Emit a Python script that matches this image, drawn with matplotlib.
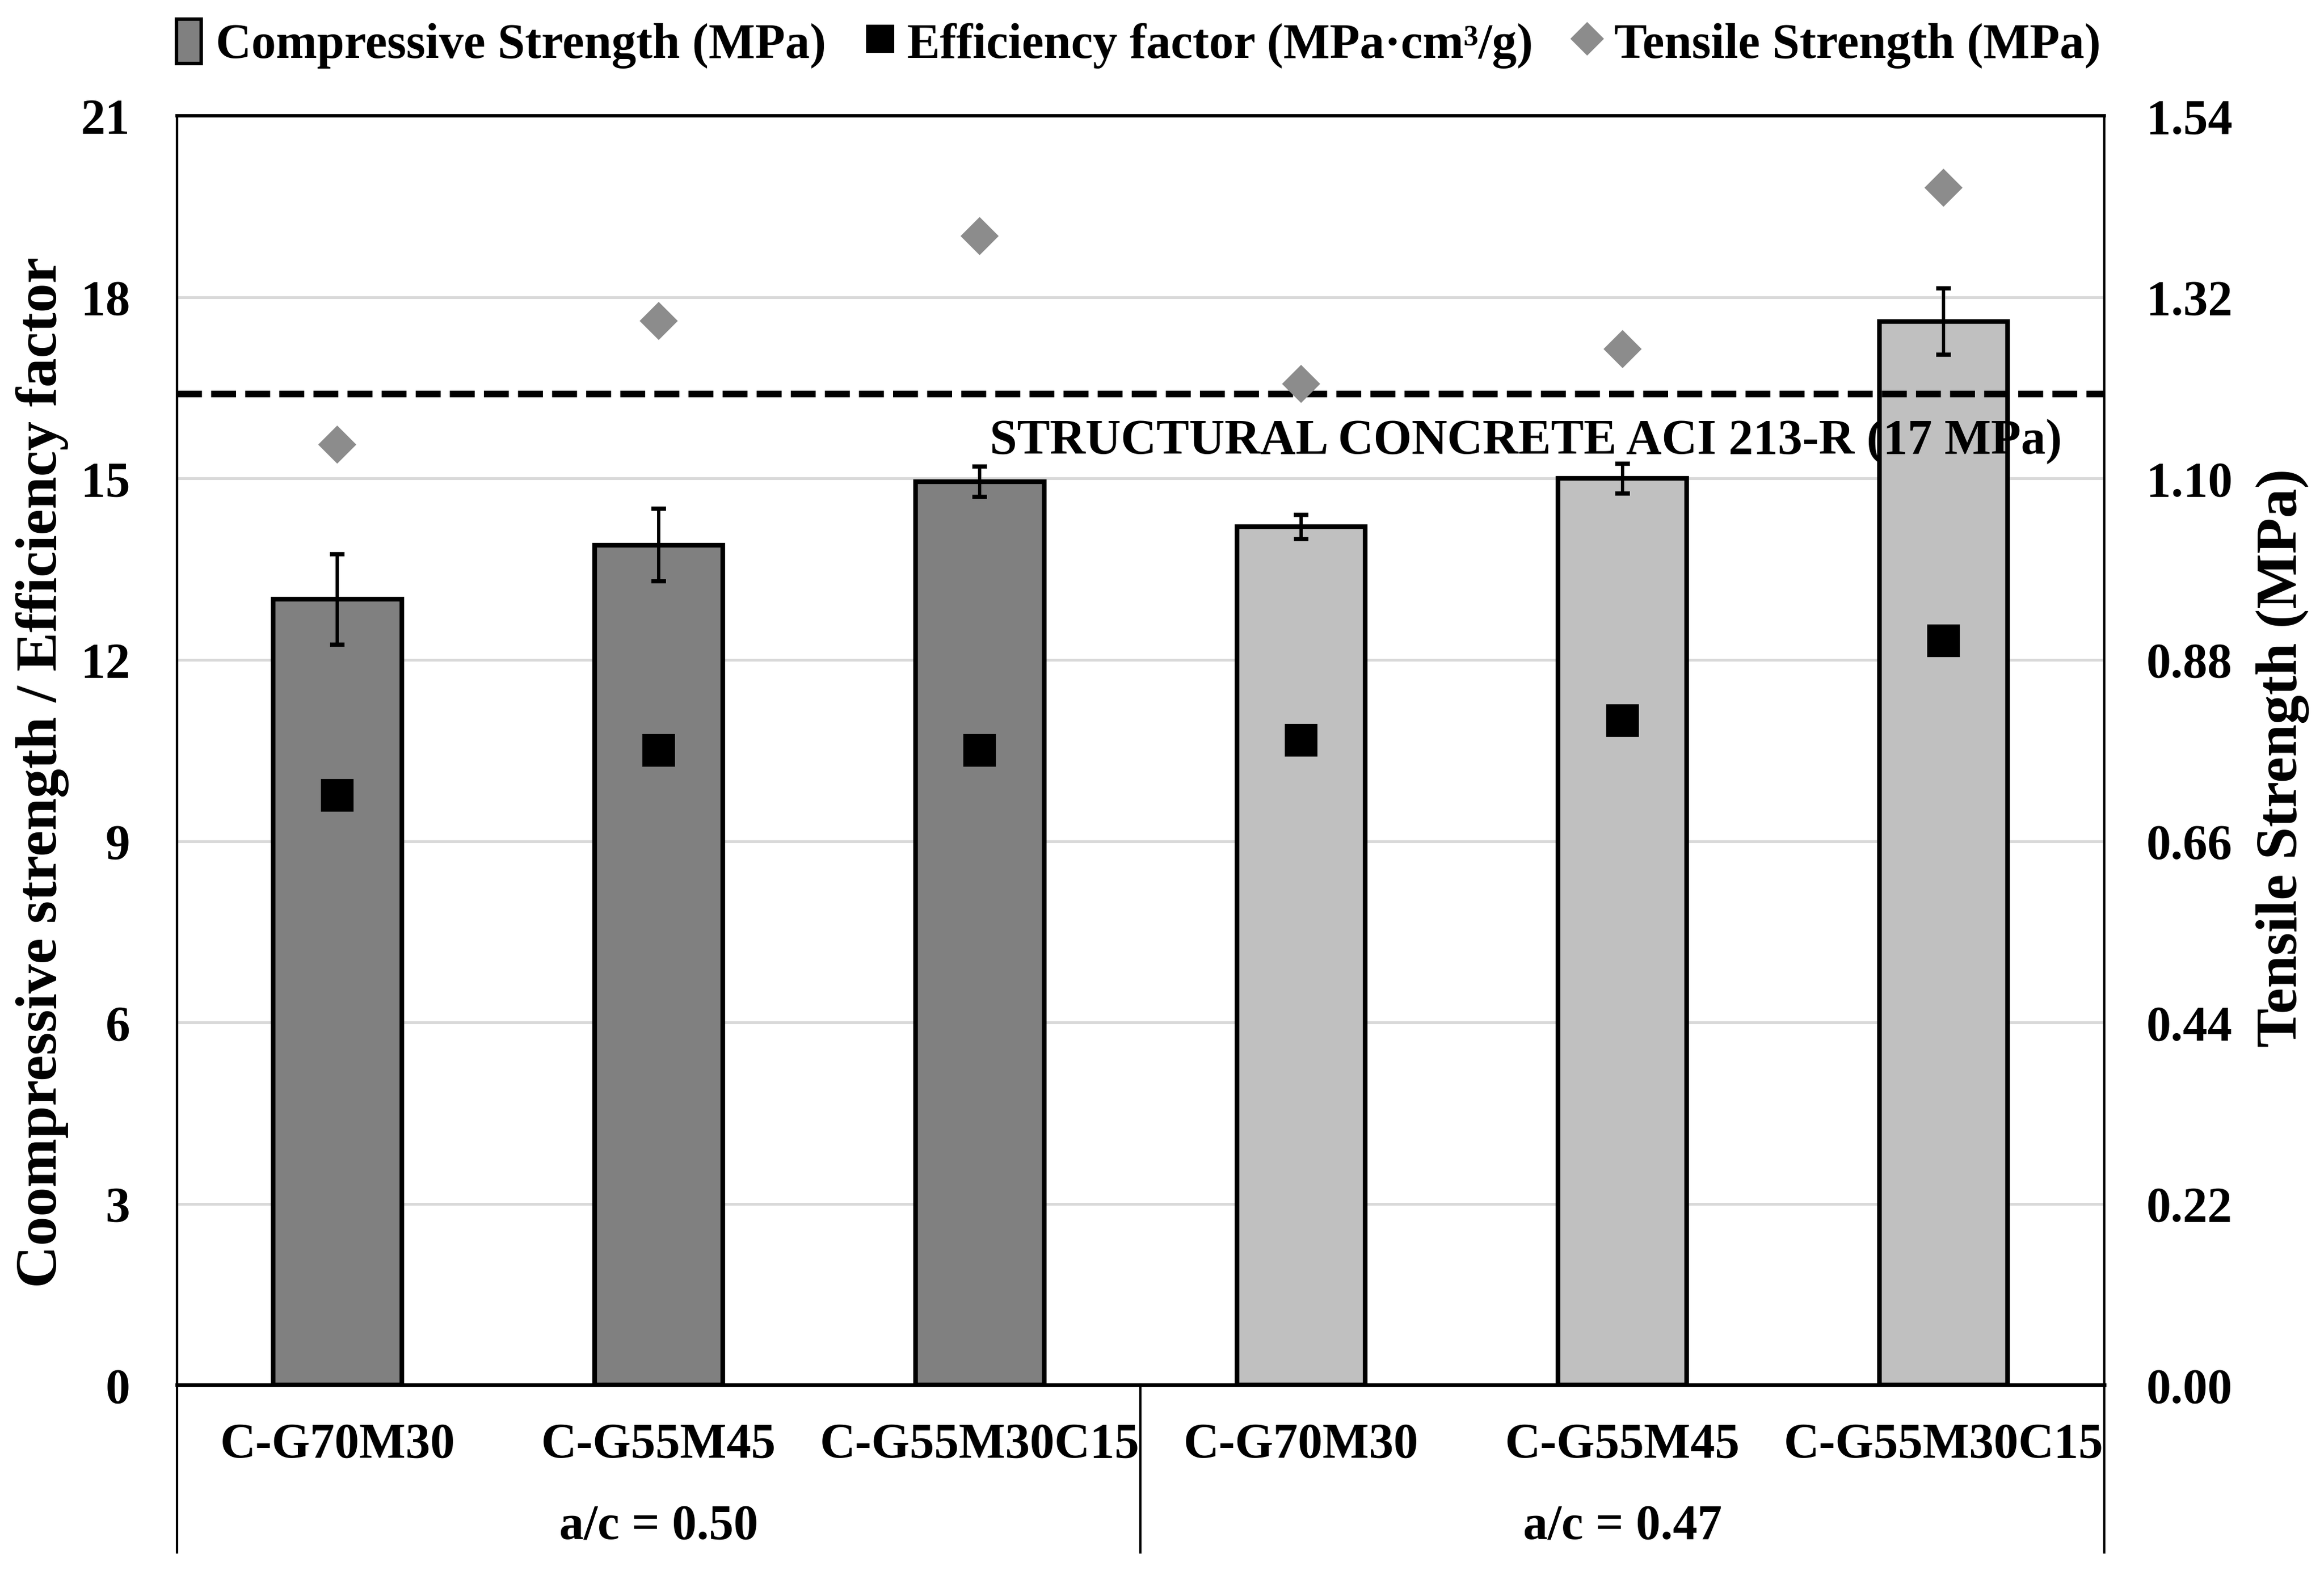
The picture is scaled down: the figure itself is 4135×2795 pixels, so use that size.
import matplotlib
matplotlib.use("Agg")
import matplotlib.pyplot as plt
from matplotlib.patches import Patch
from matplotlib.lines import Line2D

# data
mixes       = ["C-G70M30", "C-G55M45", "C-G55M30C15", "C-G70M30", "C-G55M45", "C-G55M30C15"]
groups      = ["a/c = 0.50", "a/c = 0.47"]
compressive = [13.0, 13.9, 14.95, 14.2, 15.0, 17.6]
comp_err    = [0.75, 0.6, 0.25, 0.2, 0.25, 0.55]
efficiency  = [9.76, 10.5, 10.5, 10.67, 11.0, 12.32]
tensile     = [1.141, 1.291, 1.394, 1.215, 1.257, 1.453]
aci_limit   = 16.4
bar_colors  = ["#808080"] * 3 + ["#c0c0c0"] * 3

left_ticks  = [0, 3, 6, 9, 12, 15, 18, 21]
right_ticks = [0.00, 0.22, 0.44, 0.66, 0.88, 1.10, 1.32, 1.54]

plt.rcParams["font.family"] = ["Liberation Serif", "DejaVu Serif"]
plt.rcParams["font.weight"] = "bold"

fig = plt.figure(figsize=(4135 / 300, 2795 / 300), dpi=300)
ax = fig.add_axes([0.0761, 0.1183, 0.9054 - 0.0761, 0.9262 - 0.1183])
ax2 = ax.twinx()

x = list(range(len(mixes)))
ax.bar(x, compressive, width=0.40, color=bar_colors, edgecolor="black", linewidth=2.0, zorder=2)
ax.errorbar(x, compressive, yerr=comp_err, fmt="none", ecolor="black", elinewidth=1.4,
            capsize=3.2, capthick=1.8, zorder=3)
ax.plot(x, efficiency, ls="none", marker="s", ms=13, color="black", zorder=4)
ax.axhline(aci_limit, color="black", lw=2.8, dashes=(3.8, 1.4), zorder=3)
ax.text(3.70, 15.61, "STRUCTURAL CONCRETE ACI 213-R (17 MPa)", ha="center", va="center",
        fontsize=21, fontweight="bold", zorder=5)

ax2.plot(x, tensile, ls="none", marker="D", ms=10.5, color="#8c8c8c", zorder=4)

ax.set_xlim(-0.5, 5.5)
ax.set_ylim(0, 21)
ax2.set_ylim(0, 1.54)
ax.set_yticks(left_ticks)
ax.set_yticklabels([str(t) for t in left_ticks], fontsize=21, fontweight="bold")
ax2.set_yticks(right_ticks)
ax2.set_yticklabels([f"{t:.2f}" for t in right_ticks], fontsize=21, fontweight="bold")
ax.tick_params(axis="y", length=0, pad=20)
ax2.tick_params(axis="y", length=0, pad=18)

ax.set_xticks(x)
ax.set_xticklabels(mixes, fontsize=21, fontweight="bold")
ax.tick_params(axis="x", length=0, pad=16)

ax.yaxis.grid(True, color="#d9d9d9", lw=1.2, zorder=0)
ax.set_axisbelow(True)

for a in (ax, ax2):
    for s in a.spines.values():
        s.set_linewidth(1.0)
ax.spines["bottom"].set_linewidth(1.6)
ax.spines["top"].set_linewidth(1.4)

# group separators and group labels under the axis
trans = ax.get_xaxis_transform()
for xs in (-0.5, 2.5, 5.5):
    ax.plot([xs, xs], [0, -0.132], transform=trans, color="black", lw=1.0, clip_on=False)
for i, g in enumerate(groups):
    ax.text(1 + 3 * i, -0.112, g, transform=trans, ha="center", va="center",
            fontsize=21, fontweight="bold")

ax.set_ylabel("Coompressive strength / Efficiency factor", fontsize=25, fontweight="bold",
              labelpad=5, y=0.483)
ax2.set_ylabel("Tensile Strength (MPa)", fontsize=25, fontweight="bold", labelpad=10, y=0.494)

handles = [
    Patch(facecolor="#808080", edgecolor="black", linewidth=1.5),
    Line2D([], [], ls="none", marker="s", ms=11, color="black"),
    Line2D([], [], ls="none", marker="D", ms=9, color="#8c8c8c"),
]
labels = ["Compressive Strength (MPa)", "Efficiency factor (MPa\u00b7cm\u00b3/g)", "Tensile Strength (MPa)"]
fig.legend(handles, labels, loc="center", bbox_to_anchor=(0.49, 0.972), ncol=3, frameon=False,
           fontsize=21, handlelength=0.5, handleheight=1.0, handletextpad=0.3, columnspacing=0.85)

fig.savefig("out.png", dpi=300)
